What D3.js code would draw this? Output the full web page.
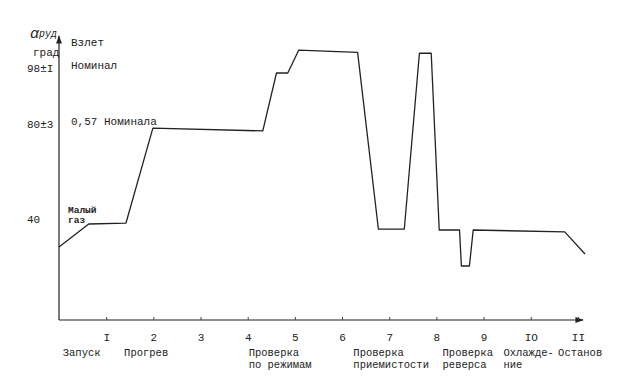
<!DOCTYPE html>
<html>
<head>
<meta charset="utf-8">
<script src="https://cdn.jsdelivr.net/npm/d3@7"></script>
<style>
  body { margin: 0; background: #fff; }
  svg text { font-family: "Liberation Mono", monospace; fill: #222; }
</style>
</head>
<body>
<div class="chartContainer"></div>
<script>
// time along the test (axis units) and throttle angle alpha_rud, deg
const stageX = [0, 0.63, 1.42, 1.99, 4.32, 4.61, 4.85, 5.08, 6.33, 6.77, 7.32, 7.64, 7.89, 8.06, 8.49, 8.53, 8.70, 8.78, 10.72, 11.15];
const alphaRud = [30.4, 40, 40.4, 80.3, 79.2, 98, 98, 105.4, 104.7, 37.9, 37.9, 104.4, 104.4, 37.5, 37.5, 22.5, 22.5, 37.5, 36.7, 27.5];

const xTicks = [1, 2, 3, 4, 5, 6, 7, 8, 9, 10, 11];
const xTickLabels = ["I", "2", "3", "4", "5", "6", "7", "8", "9", "IO", "II"];

const yTicks = [40, 80, 98];
const yTickLabels = ["40", "80\u00B13", "98\u00B1I"];

const levelNames = ["\u0412\u0437\u043B\u0435\u0442", "\u041D\u043E\u043C\u0438\u043D\u0430\u043B", "0,57 \u041D\u043E\u043C\u0438\u043D\u0430\u043B\u0430"];
const levelValues = [105.4, 98, 80];

const stageStart = [0.08, 1.38, 4.02, 6.24, 8.13, 9.42, 10.58];
const stageNames = [
  ["\u0417\u0430\u043F\u0443\u0441\u043A"],
  ["\u041F\u0440\u043E\u0433\u0440\u0435\u0432"],
  ["\u041F\u0440\u043E\u0432\u0435\u0440\u043A\u0430", "\u043F\u043E \u0440\u0435\u0436\u0438\u043C\u0430\u043C"],
  ["\u041F\u0440\u043E\u0432\u0435\u0440\u043A\u0430", "\u043F\u0440\u0438\u0435\u043C\u0438\u0441\u0442\u043E\u0441\u0442\u0438"],
  ["\u041F\u0440\u043E\u0432\u0435\u0440\u043A\u0430", "\u0440\u0435\u0432\u0435\u0440\u0441\u0430"],
  ["\u041E\u0445\u043B\u0430\u0436\u0434\u0435-", "\u043D\u0438\u0435"],
  ["\u041E\u0441\u0442\u0430\u043D\u043E\u0432"]
];

const w = 623;
const h = 382;

const svg = d3.select(".chartContainer").append("svg")
  .attr("width", w)
  .attr("height", h);

svg.append("defs").append("marker")
  .attr("id", "arrow")
  .attr("viewBox", "0 0 10 10")
  .attr("refX", 9).attr("refY", 5)
  .attr("markerWidth", 7).attr("markerHeight", 7)
  .attr("orient", "auto")
  .append("path")
  .attr("d", "M0,1.5 L10,5 L0,8.5 Z")
  .attr("fill", "#222");

const xScale = d3.scaleLinear().domain([0, 11.15]).range([59, 585]);
// schematic, not uniform axis in the original
const yScale = d3.scaleLinear()
  .domain([0, 40, 80, 98, 110])
  .range([320, 224, 129, 73, 36]);

// x axis
const xAxis = d3.axisBottom(xScale)
  .tickValues(xTicks)
  .tickFormat((d, i) => xTickLabels[i])
  .tickSizeInner(-3)
  .tickSizeOuter(0)
  .tickPadding(13);

const gx = svg.append("g")
  .attr("transform", "translate(0," + yScale(0) + ")")
  .call(xAxis);
gx.select(".domain").attr("stroke", "#222").attr("stroke-width", 1.2)
  .attr("d", "M" + xScale(0) + ",0H" + (xScale(11.15) - 2))
  .attr("marker-end", "url(#arrow)");
gx.selectAll(".tick line").attr("stroke", "#444");
gx.selectAll(".tick text").attr("font-size", 11).attr("fill", "#222")
  .style("font-family", "'Liberation Mono', monospace");

// y axis
const yAxis = d3.axisLeft(yScale)
  .tickValues(yTicks)
  .tickFormat((d, i) => yTickLabels[i])
  .tickSize(0)
  .tickSizeOuter(0);

const gy = svg.append("g")
  .attr("transform", "translate(" + xScale(0) + ",0)")
  .call(yAxis);
gy.select(".domain").attr("stroke", "#222").attr("stroke-width", 1.2)
  .attr("d", "M0," + yScale(0) + "V" + yScale(110))
  .attr("marker-end", "url(#arrow)");
gy.selectAll(".tick text")
  .attr("x", 27 - xScale(0))
  .attr("dy", "-0.1em")
  .attr("text-anchor", "start")
  .attr("font-size", 11).attr("fill", "#222")
  .style("font-family", "'Liberation Mono', monospace");

// axis title alpha_rud, град
const ttl = svg.append("text")
  .attr("x", 30).attr("y", 38)
  .attr("font-size", 15)
  .style("font-style", "italic");
ttl.append("tspan").text("\u03B1");
ttl.append("tspan").attr("dy", -1).attr("font-size", 10).text("\u0440\u0443\u0434");
svg.append("text")
  .attr("x", 33).attr("y", 56)
  .attr("font-size", 11)
  .text("\u0433\u0440\u0430\u0434");

// level names
svg.selectAll(".level")
  .data(levelNames)
  .enter()
  .append("text")
  .attr("class", "level")
  .attr("x", 71)
  .attr("y", (d, i) => yScale(levelValues[i]) - 4)
  .attr("font-size", 11)
  .text((d) => d);

// idle label
svg.append("text")
  .attr("x", 68).attr("y", yScale(40) - 11)
  .attr("font-size", 9.5).attr("font-weight", "bold")
  .text("\u041C\u0430\u043B\u044B\u0439");
svg.append("text")
  .attr("x", 68).attr("y", yScale(40) - 1)
  .attr("font-size", 9.5).attr("font-weight", "bold")
  .text("\u0433\u0430\u0437");

// stage names under the axis
const stages = svg.selectAll(".stage")
  .data(stageNames)
  .enter()
  .append("text")
  .attr("class", "stage")
  .attr("x", (d, i) => xScale(stageStart[i]))
  .attr("y", 356)
  .attr("font-size", 10.5);
stages.selectAll("tspan")
  .data((d) => d)
  .enter()
  .append("tspan")
  .attr("x", function () { return d3.select(this.parentNode).attr("x"); })
  .attr("dy", (d, i) => (i === 0 ? 0 : 12))
  .text((d) => d);

// throttle line
const line = d3.line()
  .x((d) => xScale(d))
  .y((d, i) => yScale(alphaRud[i]));

svg.append("path")
  .datum(stageX)
  .attr("d", line)
  .attr("fill", "none")
  .attr("stroke", "#222")
  .attr("stroke-width", 1.3)
  .attr("stroke-linejoin", "round");
</script>
</body>
</html>
